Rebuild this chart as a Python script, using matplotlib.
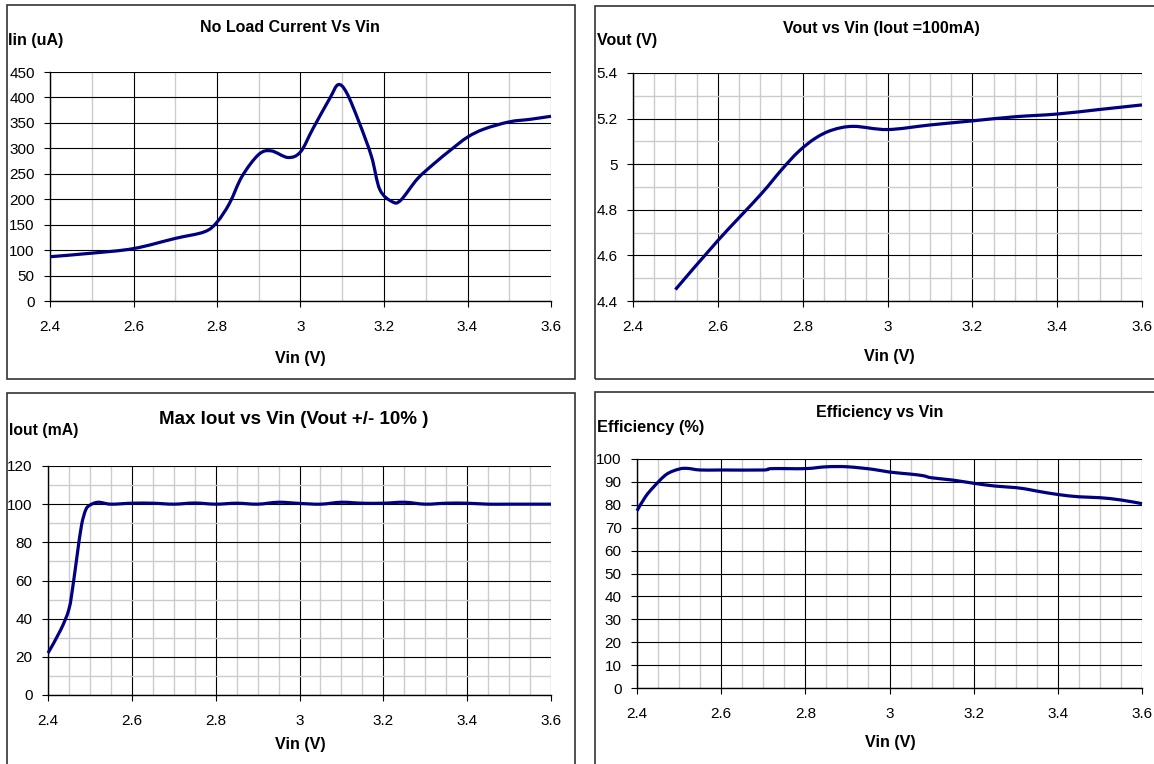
import matplotlib
matplotlib.use("Agg")
import matplotlib.pyplot as plt
from matplotlib.patches import Rectangle, PathPatch
from matplotlib.path import Path
from matplotlib.ticker import MultipleLocator, FuncFormatter
import numpy as np

plt.rcParams['font.family'] = ['Liberation Sans', 'DejaVu Sans']

# ---- data ----
vin_iin = [2.40, 2.50, 2.60, 2.70, 2.77, 2.80, 2.83, 2.86, 2.90, 2.93, 2.97, 3.00,
           3.03, 3.07, 3.09, 3.11, 3.14, 3.17, 3.19, 3.22, 3.24, 3.28, 3.32, 3.36,
           3.40, 3.44, 3.50, 3.55, 3.60]
iin_ua = [87, 94, 103, 123, 136, 155, 192, 245, 288, 295, 282, 293,
          339, 398, 425, 410, 352, 284, 219, 195, 198, 240, 270, 297,
          322, 338, 352, 357, 363]

vin_vout = [2.50, 2.60, 2.70, 2.75, 2.79, 2.83, 2.87, 2.92, 3.00, 3.10, 3.20, 3.30, 3.40, 3.50, 3.60]
vout_v = [4.45, 4.665, 4.865, 4.975, 5.055, 5.114, 5.150, 5.166, 5.152, 5.172, 5.190, 5.208, 5.220, 5.240, 5.260]

vin_iout = [2.40, 2.43, 2.45, 2.46, 2.47, 2.48, 2.49, 2.50, 2.52, 2.55, 2.60, 2.65, 2.70,
            2.75, 2.80, 2.85, 2.90, 2.95, 3.00, 3.05, 3.10, 3.15, 3.20, 3.25, 3.30,
            3.35, 3.40, 3.45, 3.50, 3.60]
iout_ma = [22, 34, 45, 58, 74, 89, 97, 99.5, 101, 100, 100.5, 100.5, 100,
           100.6, 100, 100.5, 100, 101, 100.4, 100, 101, 100.5, 100.5, 101, 100,
           100.5, 100.5, 100, 100, 100]

vin_eff = [2.40, 2.42, 2.44, 2.47, 2.50, 2.52, 2.55, 2.60, 2.70, 2.72, 2.80, 2.85, 2.90,
           2.96, 3.00, 3.05, 3.08, 3.10, 3.15, 3.20, 3.25, 3.30, 3.33, 3.35, 3.40,
           3.45, 3.50, 3.55, 3.60]
eff_pct = [77.4, 83.5, 87.9, 93.3, 95.6, 95.9, 95.2, 95.2, 95.2, 95.8, 95.8, 96.6, 96.6,
           95.5, 94.3, 93.4, 92.7, 91.8, 90.8, 89.4, 88.2, 87.5, 86.7, 86.0, 84.5,
           83.5, 83.1, 82.1, 80.5]

W, H = 1154, 764
fig = plt.figure(figsize=(W / 100, H / 100), dpi=100)
fig.patch.set_facecolor('white')

def fx(x):
    return x / W

def fy(y):
    return 1 - y / H

def add_box(x0, y0, x1, y1):
    fig.patches.append(Rectangle((fx(x0), fy(y1)), fx(x1) - fx(x0), fy(y0) - fy(y1),
                                 transform=fig.transFigure, fill=False,
                                 edgecolor='#333333', linewidth=1.2, zorder=0))

add_box(7, 5, 575, 379)
add_box(595, 6, 1160, 379)
add_box(7, 393, 575, 775)
add_box(595, 392, 1160, 775)

NAVY = '#000080'

def smooth_path(xs, ys):
    # Excel-style smoothed line: Catmull-Rom segments drawn as cubic Beziers
    p = np.column_stack([xs, ys]).astype(float)
    n = len(p)
    verts = [p[0]]
    codes = [Path.MOVETO]
    for i in range(n - 1):
        p0 = p[i - 1] if i > 0 else p[i]
        p1 = p[i]
        p2 = p[i + 1]
        p3 = p[i + 2] if i + 2 < n else p[i + 1]
        c1 = p1 + (p2 - p0) / 6.0
        c2 = p2 - (p3 - p1) / 6.0
        verts += [c1, c2, p2]
        codes += [Path.CURVE4] * 3
    return Path(verts, codes)

fmt = FuncFormatter(lambda v, p: '%g' % round(v, 3))

def make_ax(x0, y0, x1, y1, ylim, ymaj, ymin, xmin_step, xs, ys):
    ax = fig.add_axes([fx(x0), fy(y1), fx(x1) - fx(x0), fy(y0) - fy(y1)])
    ax.set_xlim(2.4, 3.6)
    ax.set_ylim(*ylim)
    ax.xaxis.set_major_locator(MultipleLocator(0.2))
    ax.xaxis.set_minor_locator(MultipleLocator(xmin_step))
    ax.yaxis.set_major_locator(MultipleLocator(ymaj))
    if ymin:
        ax.yaxis.set_minor_locator(MultipleLocator(ymin))
        ax.grid(True, which='minor', axis='y', color='#cccccc', linewidth=1.0)
    ax.grid(True, which='minor', axis='x', color='#cccccc', linewidth=1.0)
    ax.grid(True, which='major', color='black', linewidth=0.8)
    ax.set_axisbelow(True)
    for s in ['top', 'right']:
        ax.spines[s].set_visible(False)
    for s in ['left', 'bottom']:
        ax.spines[s].set_color('black')
        ax.spines[s].set_linewidth(1.0)
    ax.tick_params(which='major', direction='out', length=4, width=0.8, labelsize=11)
    ax.tick_params(axis='x', which='major', pad=9.5)
    ax.tick_params(axis='y', which='major', pad=7)
    ax.tick_params(which='minor', length=0)
    ax.xaxis.set_major_formatter(fmt)
    ax.yaxis.set_major_formatter(fmt)
    patch = PathPatch(smooth_path(xs, ys), transform=ax.transData, facecolor='none',
                      edgecolor=NAVY, linewidth=2.3, clip_on=False, zorder=5)
    ax.add_patch(patch)
    return ax

make_ax(50, 72, 551, 301, (0, 450), 50, None, 0.1, vin_iin, iin_ua)
make_ax(633, 73, 1142, 301, (4.4, 5.4), 0.2, 0.1, 0.05, vin_vout, vout_v)
make_ax(48, 466, 551, 695, (0, 120), 20, 10, 0.05, vin_iout, iout_ma)
make_ax(637, 459, 1142, 688, (0, 100), 10, None, 0.05, vin_eff, eff_pct)

def t(x, y, s, size, ha='center'):
    fig.text(fx(x), fy(y), s, fontsize=size, fontweight='bold', ha=ha, va='center')

# titles
t(290, 27, 'No Load Current Vs Vin', 11.5)
t(881, 28, 'Vout vs Vin (Iout =100mA)', 11.5)
t(294, 419, 'Max Iout vs Vin (Vout +/- 10% )', 13.5)
t(880, 413, 'Efficiency vs Vin', 11.5)

# y labels
t(8, 40, 'Iin (uA)', 11.5, ha='left')
t(597, 40, 'Vout (V)', 11.5, ha='left')
t(9, 431, 'Iout (mA)', 11.3, ha='left')
t(597, 427, 'Efficiency (%)', 11.8, ha='left')

# x labels
t(300, 358, 'Vin (V)', 11.6)
t(889, 357, 'Vin (V)', 11.6)
t(300, 745, 'Vin (V)', 11.6)
t(890, 743, 'Vin (V)', 11.6)

fig.savefig('out.png', dpi=100)
